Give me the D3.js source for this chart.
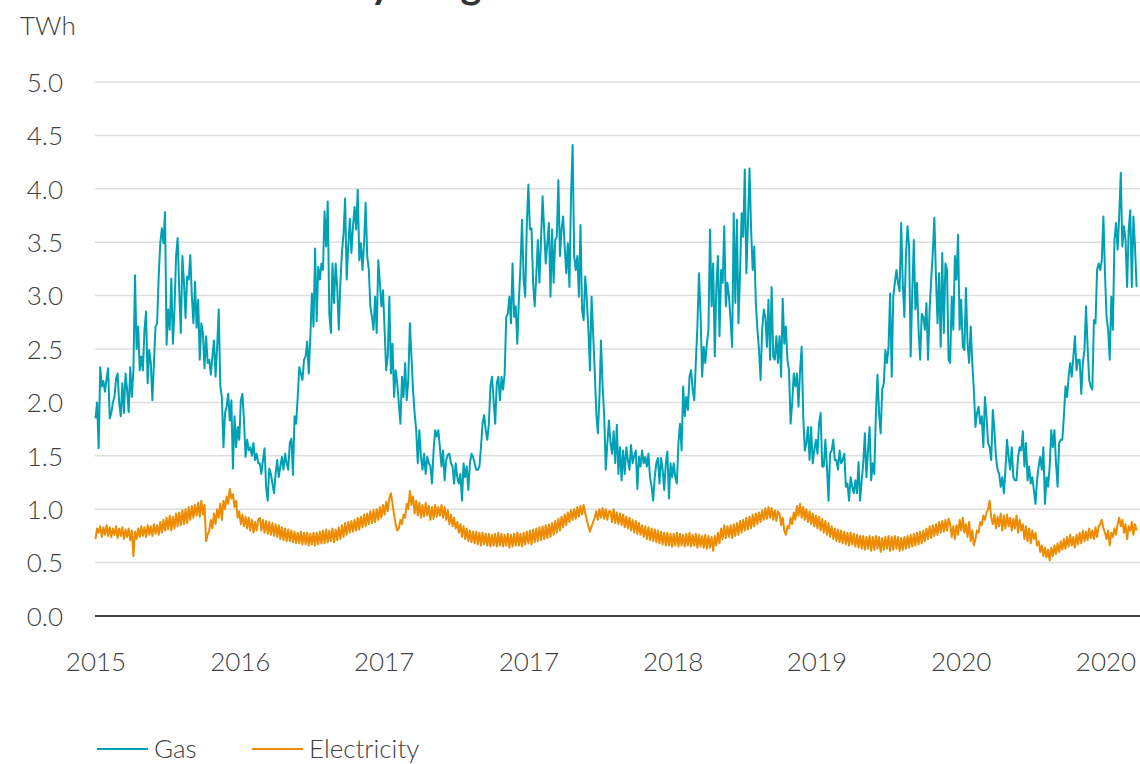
<!DOCTYPE html>
<html>
<head>
<meta charset="utf-8">
<script src="https://cdn.jsdelivr.net/npm/d3@7"></script>
<style>
  body { margin: 0; background: #fff; }
  svg text { font-family: Lato, "Open Sans", sans-serif; font-weight: 300; fill: #404040; }
</style>
</head>
<body>
<div class="chart"></div>
<script>
var width = 1140
  , height = 764
  , startDate = "2015-09-01"
  , stepDays = 3
  ;

var seriesNames = ["Gas", "Electricity"];
var seriesColors = ["#00a1b5", "#ef8b00"];
var yTicks = [0, 0.5, 1, 1.5, 2, 2.5, 3, 3.5, 4, 4.5, 5];
var tickDates = ["2015-09-01", "2016-06-01", "2017-03-01", "2017-12-01",
                 "2018-09-01", "2019-06-01", "2020-03-01", "2020-12-01"];

// daily demand read every 3 days, TWh
var gas = [
  1.85, 2.0, 1.57, 2.33, 2.15, 2.2, 2.1, 2.22, 2.32, 1.85, 1.9, 2.0, 2.05, 2.22, 2.27, 1.99, 1.87, 2.18, 1.9, 2.27,
  2.12, 1.91, 2.33, 2.05, 2.3, 3.19, 2.5, 2.71, 2.3, 2.43, 2.3, 2.68, 2.85, 2.18, 2.49, 2.37, 2.02, 2.37, 2.71, 2.74,
  3.18, 3.49, 3.63, 3.49, 3.78, 2.54, 2.87, 2.68, 3.16, 2.55, 2.87, 3.37, 3.54, 3.05, 2.65, 3.37, 3.12, 2.79, 3.18, 3.15,
  3.38, 2.99, 2.74, 3.13, 2.7, 2.96, 2.4, 2.74, 2.65, 2.32, 2.62, 2.37, 2.4, 2.26, 2.43, 2.58, 2.24, 2.52, 2.87, 2.15,
  2.05, 1.58, 1.9, 1.96, 2.08, 1.83, 2.02, 1.38, 1.87, 1.58, 1.77, 1.65, 2.02, 2.08, 1.83, 1.49, 1.65, 1.55, 1.58, 1.5,
  1.62, 1.46, 1.52, 1.43,
  1.43, 1.33, 1.46, 1.57, 1.21, 1.08, 1.38, 1.33, 1.24, 1.15, 1.33, 1.46, 1.3, 1.4, 1.49, 1.37, 1.52, 1.43, 1.37, 1.62,
  1.66, 1.32, 1.87, 1.8, 2.05, 2.33, 2.27, 2.21, 2.4, 2.43, 2.57, 2.27, 2.62, 3.02, 2.71, 3.44, 2.76, 3.27, 3.15, 3.3,
  3.24, 3.79, 3.46, 3.88, 2.83, 2.65, 3.3, 2.93, 3.3, 3.08, 2.68, 3.12, 3.4, 3.58, 3.91, 3.15, 3.46, 3.72, 3.4, 3.65,
  3.83, 3.62, 3.99, 3.33, 3.49, 3.24, 3.49, 3.87, 3.37, 3.24, 2.9, 2.8, 2.68, 2.99, 2.65, 3.33, 3.12, 2.9, 3.05, 2.68,
  2.3, 2.43, 2.99, 2.27, 2.55, 2.05, 2.3, 2.18, 1.99, 1.8, 2.24, 2.05, 2.37, 2.02, 2.21, 2.74, 2.43, 2.12, 1.9, 1.74,
  1.43, 1.74, 1.49, 1.37, 1.52, 1.33, 1.49, 1.43, 1.4, 1.24, 1.55, 1.74, 1.68, 1.74,
  1.58, 1.4, 1.55, 1.27, 1.46, 1.51, 1.52, 1.43, 1.4, 1.24, 1.43, 1.3, 1.24, 1.33, 1.08, 1.43, 1.3, 1.4, 1.18, 1.43,
  1.52, 1.49, 1.43, 1.37, 1.37, 1.4, 1.58, 1.8, 1.88, 1.74, 1.65, 1.8, 2.15, 2.24, 2.02, 1.8, 2.18, 2.24, 2.02, 2.24,
  2.12, 2.27, 2.8, 2.83, 2.99, 2.74, 3.3, 2.8, 2.9, 2.55, 2.96, 3.27, 3.71, 3.15, 2.99, 3.65, 4.04, 3.62, 3.63, 3.12,
  2.9, 3.18, 3.52, 3.12, 3.52, 3.93, 3.62, 3.3, 3.49, 3.68, 2.99, 3.62, 3.12, 3.52, 3.55, 4.08, 3.37, 3.62, 3.74, 3.46,
  3.21, 3.49, 3.08, 3.93, 4.41, 3.37, 3.24, 3.37, 2.99, 3.66, 2.87, 2.77, 3.18, 2.96, 2.68, 2.3, 2.99, 2.65, 2.3, 1.9,
  1.71, 2.05, 2.58, 2.15, 1.87, 1.37, 1.62, 1.83,
  1.62, 1.52, 1.73, 1.43, 1.79, 1.33, 1.58, 1.27, 1.55, 1.33, 1.58, 1.46, 1.37, 1.6, 1.43, 1.5, 1.55, 1.19, 1.49, 1.4,
  1.55, 1.43, 1.49, 1.4, 1.52, 1.3, 1.21, 1.08, 1.3, 1.43, 1.48, 1.24, 1.48, 1.37, 1.18, 1.43, 1.54, 1.1, 1.43, 1.3,
  1.43, 1.3, 1.24, 1.62, 1.8, 1.55, 2.15, 1.87, 2.05, 1.93, 2.24, 2.3, 2.12, 2.02, 2.37, 2.71, 3.21, 2.83, 2.24, 2.52,
  2.37, 2.55, 2.68, 3.62, 2.9, 3.3, 2.43, 3.08, 3.37, 2.62, 3.24, 3.12, 3.65, 2.9, 3.12, 2.99, 2.77, 2.52, 3.77, 2.93,
  3.71, 2.74, 3.21, 3.77, 3.55, 4.18, 3.21, 3.68, 4.19, 3.62, 3.24, 3.46, 2.93, 2.68, 2.49, 2.21, 2.68, 2.87, 2.8, 2.52,
  2.96, 2.4, 3.08, 2.43, 2.4, 2.62, 2.37,
  2.62, 2.24, 2.97, 2.55, 2.71, 2.4, 2.3, 1.8, 1.99, 2.27, 2.15, 2.27, 1.96, 2.3, 2.52, 1.87, 1.55, 1.62, 1.77, 1.46,
  1.77, 1.43, 1.55, 1.65, 1.52, 1.8, 1.9, 1.4, 1.4, 1.65, 1.4, 1.08, 1.52, 1.55, 1.65, 1.46, 1.46, 1.37, 1.55, 1.43,
  1.46, 1.52, 1.21, 1.24, 1.08, 1.3, 1.21, 1.15, 1.27, 1.15, 1.44, 1.08, 1.27, 1.43, 1.71, 1.3, 1.55, 1.77, 1.27, 1.43,
  1.33, 1.9, 2.26, 1.9, 1.71, 2.12, 2.18, 2.49, 2.37, 2.52, 3.02, 2.24, 2.99, 3.12, 3.24, 3.12, 3.04, 3.68, 3.12, 2.8,
  3.37, 3.65, 3.46, 2.43, 3.02, 3.52, 2.87, 3.12, 2.68, 2.4, 2.83, 2.8, 2.68, 2.93, 2.4, 2.87, 3.15, 3.4, 3.73, 3.18,
  2.74, 3.21, 2.52, 3.4, 2.65, 3.3, 3.24, 2.4,
  2.37, 2.99, 2.68, 3.37, 3.15, 3.57, 2.68, 2.96, 2.52, 2.49, 3.07, 2.55, 2.37, 2.71, 2.37, 2.12, 1.77, 1.9, 1.96, 1.8,
  1.87, 1.58, 2.05, 1.87, 1.62, 1.58, 1.46, 1.93, 1.74, 1.49, 1.37, 1.33, 1.21, 1.3, 1.15, 1.37, 1.65, 1.49, 1.37, 1.58,
  1.3, 1.27, 1.27, 1.49, 1.58, 1.55, 1.73, 1.4, 1.62, 1.27, 1.4, 1.24, 1.3, 1.18, 1.05, 1.27, 1.4, 1.49, 1.37, 1.58,
  1.05, 1.3, 1.21, 1.4, 1.74, 1.58, 1.74, 1.43, 1.21, 1.62, 1.65, 1.65, 1.87, 2.15, 2.05, 2.24, 2.37, 2.24, 2.43, 2.62,
  2.3, 2.4, 2.4, 2.08, 2.37, 2.49, 2.9, 2.52, 2.21, 2.15, 2.12, 2.77, 2.74, 3.24, 3.3, 3.24, 3.33, 3.74, 3.21, 2.8,
  2.68, 2.4, 2.99, 2.68, 3.52, 3.68, 3.43, 3.74, 4.15, 3.46, 3.65, 3.52, 3.08, 3.62, 3.8, 3.08, 3.74, 3.46, 3.08
];

var electricity = [
  0.72, 0.82, 0.78, 0.84, 0.74, 0.83, 0.76, 0.85, 0.75, 0.83, 0.74, 0.82, 0.76, 0.84, 0.73, 0.82, 0.75, 0.83, 0.72, 0.81,
  0.74, 0.82, 0.71, 0.80, 0.56, 0.79, 0.72, 0.82, 0.74, 0.84, 0.75, 0.83, 0.74, 0.85, 0.76, 0.84, 0.75, 0.86, 0.77, 0.85,
  0.76, 0.88, 0.78, 0.90, 0.80, 0.92, 0.81, 0.94, 0.80, 0.93, 0.82, 0.96, 0.84, 0.97, 0.85, 0.99, 0.86, 1.00, 0.87, 1.02,
  0.90, 1.03, 0.92, 1.04, 0.94, 1.06, 0.93, 1.08, 0.95, 1.04, 0.70, 0.76, 0.80, 0.90, 0.82, 0.96, 0.86, 1.00, 0.92, 1.05,
  0.90, 1.08, 1.00, 1.12, 1.05, 1.19, 1.10, 1.14, 1.02, 1.08, 0.92, 0.98, 0.86, 0.95, 0.84, 0.93, 0.82, 0.92, 0.80, 0.90,
  0.78, 0.88, 0.80, 0.90,
  0.92, 0.80, 0.90, 0.78, 0.89, 0.77, 0.88, 0.76, 0.87, 0.75, 0.86, 0.74, 0.85, 0.72, 0.83, 0.71, 0.82, 0.70, 0.81, 0.70,
  0.80, 0.69, 0.79, 0.68, 0.78, 0.68, 0.79, 0.67, 0.78, 0.67, 0.78, 0.66, 0.77, 0.67, 0.78, 0.66, 0.78, 0.67, 0.79, 0.68,
  0.80, 0.68, 0.81, 0.69, 0.80, 0.70, 0.82, 0.69, 0.81, 0.71, 0.83, 0.72, 0.85, 0.74, 0.87, 0.76, 0.88, 0.78, 0.89, 0.79,
  0.90, 0.80, 0.92, 0.81, 0.93, 0.83, 0.95, 0.84, 0.96, 0.86, 0.98, 0.87, 0.99, 0.88, 1.00, 0.90, 1.02, 0.92, 1.04, 0.95,
  1.07, 0.98, 1.10, 1.15, 1.05, 0.95, 0.86, 0.80, 0.82, 0.90, 0.86, 0.95, 0.92, 1.05, 1.00, 1.17, 1.04, 1.12, 0.96, 1.08,
  0.94, 1.06, 0.92, 1.04, 0.93, 1.06, 0.94, 1.03, 0.90, 1.02, 0.91, 1.04, 0.93, 1.02,
  0.94, 1.04, 0.92, 1.02, 0.90, 0.99, 0.86, 0.95, 0.84, 0.92, 0.82, 0.88, 0.78, 0.86, 0.74, 0.84, 0.72, 0.82, 0.70, 0.80,
  0.69, 0.79, 0.68, 0.79, 0.67, 0.78, 0.66, 0.78, 0.67, 0.77, 0.66, 0.77, 0.65, 0.76, 0.66, 0.77, 0.65, 0.78, 0.66, 0.77,
  0.65, 0.76, 0.66, 0.77, 0.64, 0.76, 0.65, 0.77, 0.66, 0.78, 0.66, 0.77, 0.65, 0.78, 0.67, 0.79, 0.68, 0.80, 0.67, 0.81,
  0.69, 0.82, 0.70, 0.83, 0.71, 0.84, 0.72, 0.85, 0.73, 0.86, 0.74, 0.87, 0.76, 0.89, 0.78, 0.91, 0.80, 0.93, 0.83, 0.95,
  0.85, 0.97, 0.88, 0.99, 0.90, 1.00, 0.91, 1.02, 0.93, 1.03, 0.95, 1.04, 0.96, 0.90, 0.84, 0.79, 0.84, 0.88, 0.92, 0.98,
  0.90, 1.00, 0.92, 1.01, 0.91, 1.00, 0.90, 0.98,
  0.98, 0.88, 1.00, 0.87, 0.97, 0.86, 0.96, 0.85, 0.95, 0.83, 0.93, 0.82, 0.92, 0.80, 0.90, 0.78, 0.89, 0.77, 0.87, 0.76,
  0.85, 0.74, 0.84, 0.72, 0.83, 0.71, 0.82, 0.70, 0.81, 0.69, 0.80, 0.68, 0.79, 0.67, 0.78, 0.66, 0.78, 0.66, 0.77, 0.65,
  0.77, 0.66, 0.78, 0.65, 0.77, 0.66, 0.76, 0.65, 0.77, 0.66, 0.78, 0.65, 0.76, 0.66, 0.77, 0.64, 0.76, 0.65, 0.75, 0.64,
  0.76, 0.63, 0.75, 0.64, 0.74, 0.61, 0.75, 0.66, 0.78, 0.68, 0.82, 0.72, 0.85, 0.73, 0.84, 0.74, 0.85, 0.73, 0.86, 0.75,
  0.87, 0.76, 0.89, 0.78, 0.90, 0.80, 0.92, 0.81, 0.93, 0.82, 0.95, 0.84, 0.96, 0.86, 0.97, 0.88, 0.99, 0.90, 1.01, 0.91,
  1.02, 0.92, 1.01, 0.90, 0.99, 0.89, 0.98,
  0.96, 0.85, 0.92, 0.80, 0.76, 0.84, 0.82, 0.92, 0.86, 0.97, 0.90, 1.03, 0.94, 1.05, 0.92, 1.02, 0.90, 1.00, 0.88, 0.98,
  0.86, 0.96, 0.84, 0.94, 0.82, 0.93, 0.80, 0.91, 0.78, 0.89, 0.76, 0.87, 0.74, 0.84, 0.72, 0.82, 0.70, 0.81, 0.69, 0.80,
  0.68, 0.79, 0.67, 0.78, 0.66, 0.78, 0.67, 0.77, 0.65, 0.76, 0.64, 0.75, 0.63, 0.75, 0.62, 0.74, 0.63, 0.75, 0.61, 0.74,
  0.62, 0.75, 0.63, 0.74, 0.60, 0.73, 0.62, 0.74, 0.63, 0.75, 0.61, 0.74, 0.62, 0.75, 0.63, 0.74, 0.61, 0.73, 0.62, 0.74,
  0.63, 0.75, 0.64, 0.76, 0.65, 0.77, 0.66, 0.78, 0.67, 0.79, 0.68, 0.80, 0.70, 0.82, 0.72, 0.84, 0.73, 0.85, 0.75, 0.86,
  0.76, 0.88, 0.78, 0.89, 0.79, 0.90, 0.80, 0.91,
  0.86, 0.74, 0.84, 0.72, 0.85, 0.76, 0.90, 0.80, 0.92, 0.78, 0.86, 0.74, 0.88, 0.70, 0.80, 0.66, 0.72, 0.80, 0.78, 0.88,
  0.85, 0.94, 0.90, 0.97, 1.00, 1.08, 0.92, 0.86, 0.95, 0.82, 0.93, 0.84, 0.96, 0.80, 0.94, 0.82, 0.95, 0.84, 0.92, 0.80,
  0.91, 0.82, 0.94, 0.78, 0.90, 0.80, 0.86, 0.72, 0.84, 0.70, 0.82, 0.68, 0.80, 0.72, 0.78, 0.66, 0.70, 0.60, 0.66, 0.56,
  0.64, 0.55, 0.62, 0.52, 0.64, 0.56, 0.66, 0.58, 0.68, 0.60, 0.70, 0.62, 0.72, 0.63, 0.74, 0.65, 0.76, 0.66, 0.74, 0.64,
  0.76, 0.67, 0.78, 0.68, 0.80, 0.70, 0.79, 0.71, 0.82, 0.73, 0.80, 0.72, 0.83, 0.74, 0.84, 0.86, 0.90, 0.82, 0.78, 0.72,
  0.80, 0.66, 0.78, 0.74, 0.82, 0.76, 0.86, 0.92, 0.84, 0.90, 0.78, 0.86, 0.72, 0.84, 0.80, 0.88, 0.76, 0.86, 0.80
];

var parseDate = d3.timeParse("%Y-%m-%d")
  , t0 = parseDate(startDate)
  , ticks = tickDates.map(parseDate)
  ;

var svg = d3.select(".chart").append("svg")
  .attr("width", width)
  .attr("height", height);

var x = d3.scaleTime()
  .domain([ticks[0], ticks[ticks.length - 1]])
  .range([95.5, 1105.5]);

var y = d3.scaleLinear()
  .domain([0, 5])
  .range([616, 82]);

// title sits above the crop, only the descenders show
svg.append("text")
  .attr("x", 300)
  .attr("y", -2)
  .style("font-size", "40px")
  .style("font-weight", 700)
  .style("fill", "#333")
  .text("Daily usage");

svg.append("text")
  .attr("x", 20)
  .attr("y", 35)
  .style("font-size", "26px")
  .text("TWh");

// gridlines
svg.append("g").selectAll("line")
  .data(yTicks.filter(function(d) { return d > 0; }))
  .enter().append("line")
    .attr("x1", 95)
    .attr("x2", width)
    .attr("y1", function(d) { return y(d); })
    .attr("y2", function(d) { return y(d); })
    .attr("stroke", "#dedede")
    .attr("stroke-width", 1.5);

var yAxis = svg.append("g")
  .attr("transform", "translate(63,0)")
  .call(d3.axisLeft(y).tickValues(yTicks).tickFormat(d3.format(".1f")).tickSize(0).tickPadding(0));
yAxis.select(".domain").remove();
yAxis.selectAll("text").style("font-size", "26px").attr("dy", "0.36em");

svg.append("line")
  .attr("x1", 95)
  .attr("x2", width)
  .attr("y1", y(0))
  .attr("y2", y(0))
  .attr("stroke", "#404040")
  .attr("stroke-width", 2);

var xAxis = svg.append("g")
  .attr("transform", "translate(0," + y(0) + ")")
  .call(d3.axisBottom(x).tickValues(ticks).tickFormat(d3.timeFormat("%Y")).tickSize(0).tickPadding(0));
xAxis.select(".domain").remove();
xAxis.selectAll("text").style("font-size", "26px").attr("dy", "2.1em");

var dates = gas.map(function(d, i) { return d3.timeDay.offset(t0, i * stepDays); });

var line = d3.line()
  .x(function(d, i) { return x(dates[i]); })
  .y(function(d) { return y(d); });

[gas, electricity].forEach(function(series, k) {
  svg.append("path")
    .datum(series)
    .attr("d", line)
    .attr("fill", "none")
    .attr("stroke", seriesColors[k])
    .attr("stroke-width", 2)
    .attr("stroke-linejoin", "round");
});

// legend
var legendX = [97, 252];
var legend = svg.append("g").selectAll("g")
  .data(seriesNames)
  .enter().append("g")
    .attr("transform", function(d, i) { return "translate(" + legendX[i] + ",749)"; });

legend.append("line")
  .attr("x1", 0)
  .attr("x2", 51)
  .attr("stroke", function(d, i) { return seriesColors[i]; })
  .attr("stroke-width", 2);

legend.append("text")
  .attr("x", 57)
  .attr("y", 9)
  .style("font-size", "26px")
  .text(function(d) { return d; });
</script>
</body>
</html>
